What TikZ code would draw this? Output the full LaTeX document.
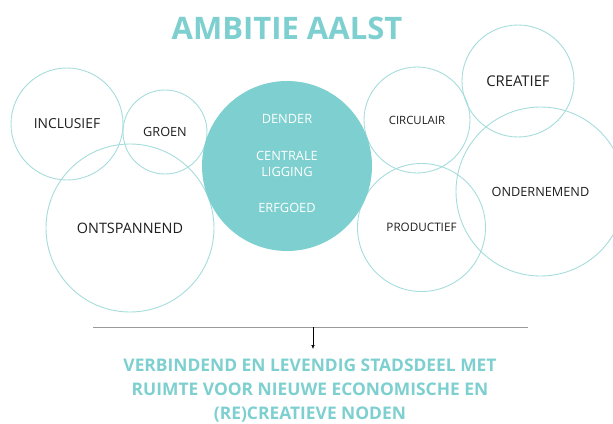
\documentclass[tikz,border=0pt]{standalone}
\usepackage{fontspec}
\setmainfont{Open Sans}
\usetikzlibrary{arrows.meta}
\definecolor{teal1}{HTML}{7ECFCF}
\definecolor{ring}{HTML}{A6DCDC}
\definecolor{txt}{HTML}{1E1E1E}
\tikzset{
  bubble/.style={circle, draw=ring, line width=0.9pt, inner sep=0pt, text=txt, font=\fontsize{12.7}{15}\selectfont},
  hub/.style={circle, fill=teal1, draw=none, inner sep=0pt},
  hubtext/.style={text=white, align=center, font=\fontsize{12.8}{16.5}\selectfont},
  heading/.style={text=teal1, font=\bfseries\fontsize{31}{36}\selectfont},
  result/.style={text=teal1, align=center, font=\bfseries\fontsize{17.4}{24}\selectfont},
  rule/.style={draw=gray!80, line width=0.9pt},
  arr/.style={draw=black, line width=0.5pt, -{Latex[length=4pt,width=3.5pt]}}
}
\begin{document}
\begin{tikzpicture}[x=1pt,y=-1pt]
\useasboundingbox (0,0) rectangle (613,423);
\node[heading] (title) at (287,28) {AMBITIE AALST};
% left bubbles
\node[bubble, minimum size=112pt, font=\fontsize{13.8}{15}\selectfont] (incl) at (67,124) {INCLUSIEF};
\node[bubble, minimum size=84pt] (groen) at (165,132) {GROEN};
\node[bubble, minimum size=168pt, font=\fontsize{14.4}{16}\selectfont] (onts) at (130,228) {ONTSPANNEND};
% right bubbles
\node[bubble, minimum size=106pt, font=\fontsize{11.4}{13}\selectfont] (circ) at (417,120) {CIRCULAIR};
\node[bubble, minimum size=112pt, font=\fontsize{14.8}{16}\selectfont] (crea) at (518,81) {CREATIEF};
\node[bubble, minimum size=169pt] (onder) at (540.5,191.5) {ONDERNEMEND};
\node[bubble, minimum size=128pt, font=\fontsize{11.7}{13}\selectfont] (prod) at (421.5,227.5) {PRODUCTIEF};
% hub
\node[hub, minimum size=170pt] (hub) at (287,166) {};
\node[hubtext] (d1) at (287,119) {DENDER};
\node[hubtext] (d2) at (287,164) {CENTRALE\\LIGGING};
\node[hubtext] (d3) at (287,208) {ERFGOED};
% rule and arrow
\coordinate (l1) at (93,327);
\coordinate (l2) at (528,327);
\coordinate (a1) at (313,327);
\coordinate (a2) at (313,349);
\draw[rule] (l1) -- (l2);
\draw[arr] (a1) -- (a2);
\node[result] (res) at (310,391) {VERBINDEND EN LEVENDIG STADSDEEL MET\\RUIMTE VOOR NIEUWE ECONOMISCHE EN\\(RE)CREATIEVE NODEN};
\end{tikzpicture}
\end{document}
